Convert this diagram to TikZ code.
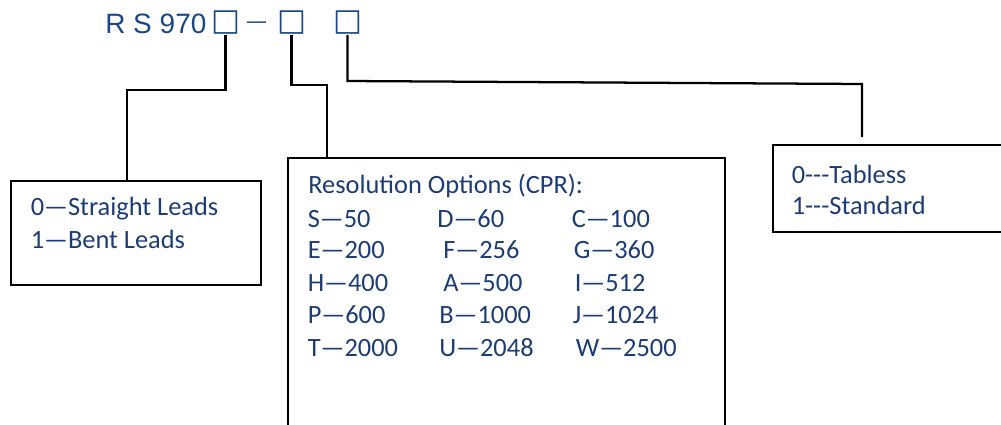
\documentclass[tikz,border=0pt]{standalone}
\usepackage{fontspec}
\setmainfont{Carlito}
\newfontfamily\arialfont{Liberation Sans}
\newfontfamily\symfont{DejaVu Sans}
\usetikzlibrary{positioning}
\definecolor{codeblue}{RGB}{26,72,134}
\definecolor{optblue}{RGB}{28,60,116}

\begin{document}
\begin{tikzpicture}
	[
	x=0.75pt, y=-0.75pt,
  box/.style = {draw, line width=1.6pt},
  lead/.style = {line width=1.7pt},
  opt/.style = {anchor=base west, inner sep=0pt, text=optblue, font=\fontsize{19.8}{24}\selectfont},
  slot/.style = {inner sep=0pt, text=codeblue, font=\symfont\fontsize{23}{23}\selectfont}
  ]
	\useasboundingbox (0,0) rectangle (1001,425);

	% part number
	\node[anchor=base west, inner sep=0pt, text=codeblue, font=\arialfont\fontsize{21}{21}\selectfont] (code) at (105,33) {R S 970};
	\node[slot] (sqlead) at (225.5,23) {□};
	\node[anchor=base, inner sep=0pt, text=codeblue, font=\symfont\fontsize{16}{16}\selectfont] (dash) at (256.5,28.5) {—};
	\node[slot] (sqres) at (291.5,23) {□};
	\node[slot] (sqtab) at (347.5,23) {□};

	\coordinate (leadin) at (127,180);
	\coordinate (resin) at (327,158);
	\coordinate (tabin) at (862,137);

	% boxes
	\node[box, anchor=north west, minimum width=187.5pt, minimum height=78pt] (leadbox) at (10,180) {};
	\draw[line width=1.6pt] (288,430) |- (725,158) -- (725,430);
	\draw[line width=1.6pt] (1005,145) -| (773,232) -- (1005,232);

	% leads
	\draw[lead] (sqlead.south) -- ++(0,55) -| (leadin);
	\draw[lead] (sqres.south) -- ++(0,50) -| (resin);
	\draw[lead] (sqtab.south) -- ++(0,46) -- (862,84) -- (tabin);

		\node[opt] (lead0) at (30.5,215) {0—Straight Leads};
		\node[opt] (lead1) at (30.5,248) {1—Bent Leads};

		\node[opt] (reshead) at (308,193) {Resolution Options (CPR):};
		\foreach \y/\ta/\xb/\tb/\xc/\tc [count=\i] in
			{227/S—50/437/D—60/571.5/C—100,
			 258/E—200/443/F—256/573.5/G—360,
			 291/H—400/443/A—500/574.5/I—512,
			 323/P—600/439/B—1000/572.5/J—1024,
			 356/T—2000/439/U—2048/575.5/W—2500}
		{
			\node[opt] (resa\i) at (307.5,\y) {\ta};
			\node[opt] (resb\i) at (\xb,\y) {\tb};
			\node[opt] (resc\i) at (\xc,\y) {\tc};
		}

		\node[opt] (tab0) at (791.5,183) {0\mbox{-}\mbox{-}\mbox{-}Tabless};
		\node[opt] (tab1) at (791.5,214) {1\mbox{-}\mbox{-}\mbox{-}Standard};
	\end{tikzpicture}
\end{document}
